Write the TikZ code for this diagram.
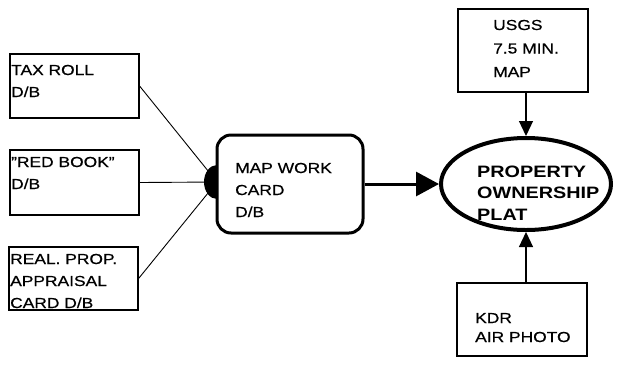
\documentclass[tikz,border=0pt]{standalone}
\usepackage{fontspec}
\setmainfont{Liberation Sans}[FakeStretch=1.2, FakeBold=0.6, BoldFeatures={FakeBold=0}]
\usetikzlibrary{arrows.meta,shapes.geometric}
\tikzset{
  dbbox/.style={draw, line width=1.2pt, inner sep=0pt, fill=white},
  lbl/.style={anchor=base west, inner sep=0pt, align=left, font=\fontsize{14.5}{22}\selectfont},
  feed/.style={line width=0.9pt},
  thinarrow/.style={line width=1.2pt, -{Triangle[length=15pt,width=14pt]}},
  thickarrow/.style={line width=3pt, -{Triangle[length=23pt,width=24pt]}}
}
\begin{document}
\begin{tikzpicture}[x=1pt,y=-1pt]
\useasboundingbox (0,0) rectangle (618,365);
% left boxes
\node[dbbox, minimum width=129pt, minimum height=64pt] (tax) at (74.5,86) {};
\node[dbbox, minimum width=129pt, minimum height=65pt] (red) at (74.5,182.5) {};
\node[dbbox, minimum width=129pt, minimum height=63pt] (real) at (73.5,278.5) {};
\node[lbl] (taxT) at (11,97) {TAX ROLL\\D/B};
\node[lbl] (redT) at (11,189) {"RED BOOK"\\D/B};
\node[lbl] (realT) at (10,308) {REAL. PROP.\\APPRAISAL\\CARD D/B};
% join point
\coordinate (blob) at (217,182);
\draw[feed] (tax.east) -- (blob);
\draw[feed] (red.east) -- (blob);
\draw[feed] (real.east) -- (blob);
\fill (blob) ellipse [x radius=13, y radius=17];
% map work card
\node[draw, line width=3pt, rounded corners=14pt, fill=white, minimum width=146pt, minimum height=98pt, inner sep=0pt] (card) at (290,184) {};
\node[lbl] (cardT) at (235,217) {MAP WORK\\CARD\\D/B};
% plat ellipse
\node[draw, ellipse, line width=4pt, minimum width=170pt, minimum height=92pt, inner sep=0pt] (plat) at (526,184) {};
\node[lbl, font=\bfseries\fontsize{16.5}{21.5}\selectfont] (platT) at (477,220) {PROPERTY\\OWNERSHIP\\PLAT};
\draw[thickarrow] (card.east) -- (plat.west);
% USGS
\node[dbbox, minimum width=130pt, minimum height=83pt] (usgs) at (523,50.5) {};
\node[lbl, font=\fontsize{14.5}{23.5}\selectfont] (usgsT) at (493,77) {USGS\\7.5 MIN.\\MAP};
\draw[thinarrow] (usgs.south -| plat.north) -- (plat.north);
% KDR
\node[dbbox, minimum width=130pt, minimum height=73pt] (kdr) at (522,319.5) {};
\node[lbl, font=\fontsize{14.5}{19}\selectfont] (kdrT) at (475,342) {KDR\\AIR PHOTO};
\draw[thinarrow] (kdr.north -| plat.south) -- (plat.south);
\end{tikzpicture}
\end{document}
